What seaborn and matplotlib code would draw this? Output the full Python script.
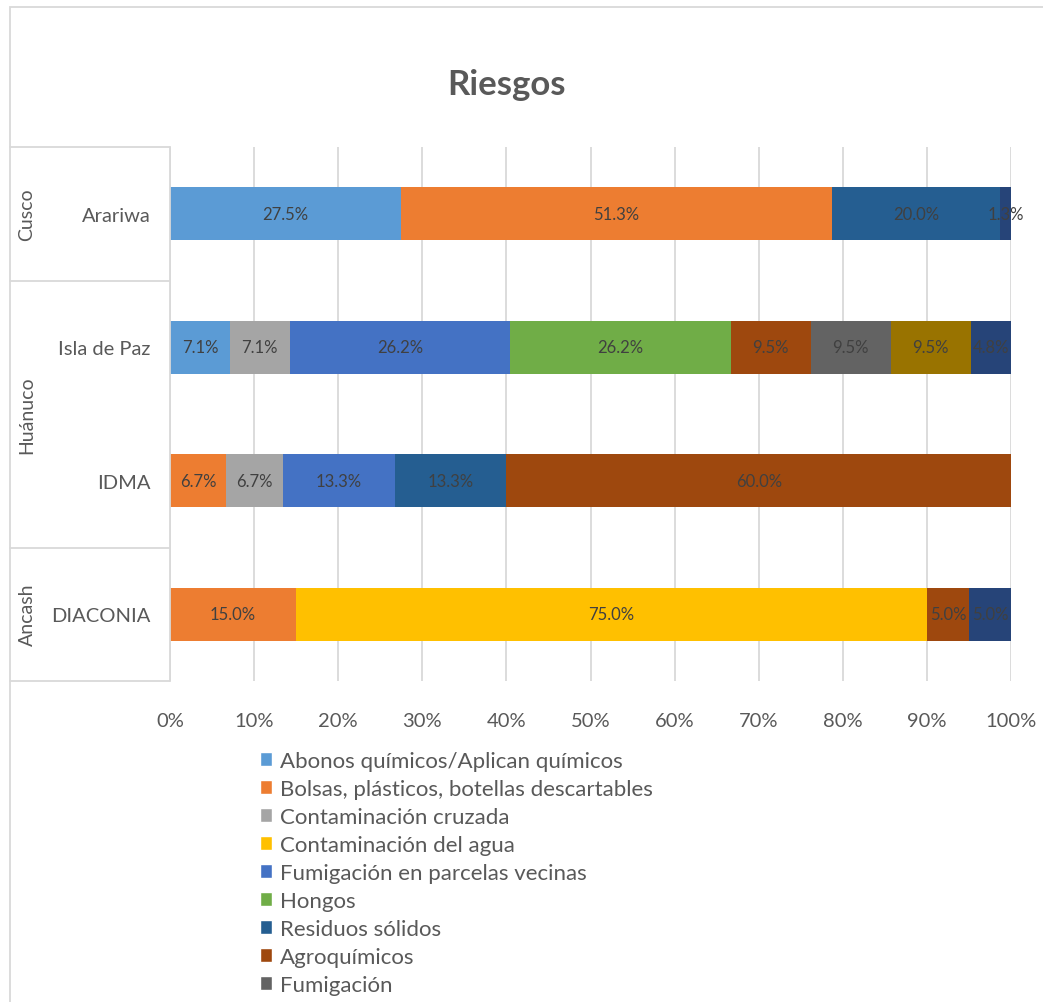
import numpy as np
import pandas as pd
import seaborn as sns
import matplotlib.pyplot as plt
import matplotlib.transforms as mtransforms
from matplotlib.patches import Patch, Rectangle
from matplotlib.lines import Line2D

# organisations (rows) and their region
orgs = ['Arariwa', 'Isla de Paz', 'IDMA', 'DIACONIA']
regions = ['Cusco', 'Huánuco', 'Huánuco', 'Ancash']

series = ['Abonos químicos/Aplican químicos',
          'Bolsas, plásticos, botellas descartables',
          'Contaminación cruzada',
          'Contaminación del agua',
          'Fumigación en parcelas vecinas',
          'Hongos',
          'Residuos sólidos',
          'Agroquímicos',
          'Fumigación',
          'Serie 10',
          'Serie 11']
colors = ['#5B9BD5', '#ED7D31', '#A5A5A5', '#FFC000', '#4472C4', '#70AD47',
          '#255E91', '#9E480E', '#636363', '#997300', '#264478']
n_legend = 9  # only the first 9 entries fit in the picture

# percentages (order of orgs)
abonos = [27.5, 7.1, 0, 0]
bolsas = [51.3, 0, 6.7, 15.0]
cont_cruzada = [0, 7.1, 6.7, 0]
cont_agua = [0, 0, 0, 75.0]
fumig_parcelas = [0, 26.2, 13.3, 0]
hongos = [0, 26.2, 0, 0]
residuos = [20.0, 0, 13.3, 0]
agroquimicos = [0, 9.5, 60.0, 5.0]
fumigacion = [0, 9.5, 0, 0]
serie10 = [0, 9.5, 0, 0]
serie11 = [1.3, 4.8, 0, 5.0]

values = [abonos, bolsas, cont_cruzada, cont_agua, fumig_parcelas, hongos,
          residuos, agroquimicos, fumigacion, serie10, serie11]
df = pd.DataFrame(dict(zip(series, values)), index=orgs)
share = df.div(df.sum(axis=1), axis=0)
cum = share.cumsum(axis=1).where(share > 0)
plot_df = cum.reset_index(names='org')

sns.set_style('white')
plt.rcParams['font.family'] = ['Lato', 'DejaVu Sans']

W, H = 1043, 1003
fig = plt.figure(figsize=(W / 100, H / 100), dpi=100)
ax = fig.add_axes([170 / W, 1 - 682 / H, (1011 - 170) / W, (682 - 148) / H])

# stacked bars: draw cumulative totals from the last series to the first
for s, c in reversed(list(zip(series, colors))):
    sns.barplot(data=plot_df, x=s, y='org', order=orgs, orient='h', color=c,
                saturation=1, width=0.4, ax=ax, linewidth=0)

for i, org in enumerate(orgs):
    for s in series:
        v = df.loc[org, s]
        if v > 0:
            xc = cum.loc[org, s] - share.loc[org, s] / 2
            ax.text(xc, i, f'{v:.1f}%', ha='center', va='center',
                    fontsize=12, color='#404040')

ax.set_xlim(0, 1)
ax.set_ylim(3.5, -0.5)
ax.set_xticks(np.linspace(0, 1, 11))
ax.set_xticklabels([f'{int(t)}%' for t in np.linspace(0, 100, 11)])
ax.xaxis.grid(True, color='#D9D9D9', lw=1.3)
ax.set_axisbelow(True)
ax.set_xlabel('')
ax.set_ylabel('')
for sp in ax.spines.values():
    sp.set_visible(False)
ax.tick_params(axis='x', length=0, pad=22, labelsize=14.5, labelcolor='#595959')
ax.tick_params(axis='y', length=0, pad=14, labelsize=14.5, labelcolor='#595959')

# category box on the left, with region labels
tr = mtransforms.blended_transform_factory(fig.transFigure, ax.transData)
for yb in [-0.5, 0.5, 2.5, 3.5]:
    fig.add_artist(Line2D([10 / W, 170 / W], [yb, yb], transform=tr,
                          color='#D9D9D9', lw=1.3))
fig.add_artist(Line2D([170 / W, 170 / W], [-0.5, 3.5], transform=tr,
                      color='#D9D9D9', lw=1.3))
for reg in ['Cusco', 'Huánuco', 'Ancash']:
    idx = [i for i, r in enumerate(regions) if r == reg]
    fig.text(27 / W, np.mean(idx), reg, transform=tr, rotation=90,
             ha='center', va='center', fontsize=14, color='#595959')

# chart frame
fig.add_artist(Rectangle((10 / W, -0.1), 1.2, 1.1 - 8 / H,
                         transform=fig.transFigure, fill=False,
                         ec='#D9D9D9', lw=1.3))

fig.text(507 / W, 1 - 85 / H, 'Riesgos', ha='center', va='center',
         fontsize=25, fontweight='bold', color='#595959')

handles = [Patch(facecolor=c) for c in colors[:n_legend]]
fig.legend(handles, series[:n_legend], loc='upper left',
           bbox_to_anchor=(260 / W, 1 - 752 / H), frameon=False, fontsize=16,
           labelcolor='#595959', handlelength=0.55, handleheight=0.55,
           handletextpad=0.35, labelspacing=0.36, borderaxespad=0, borderpad=0)

fig.savefig('out.png', dpi=100)
